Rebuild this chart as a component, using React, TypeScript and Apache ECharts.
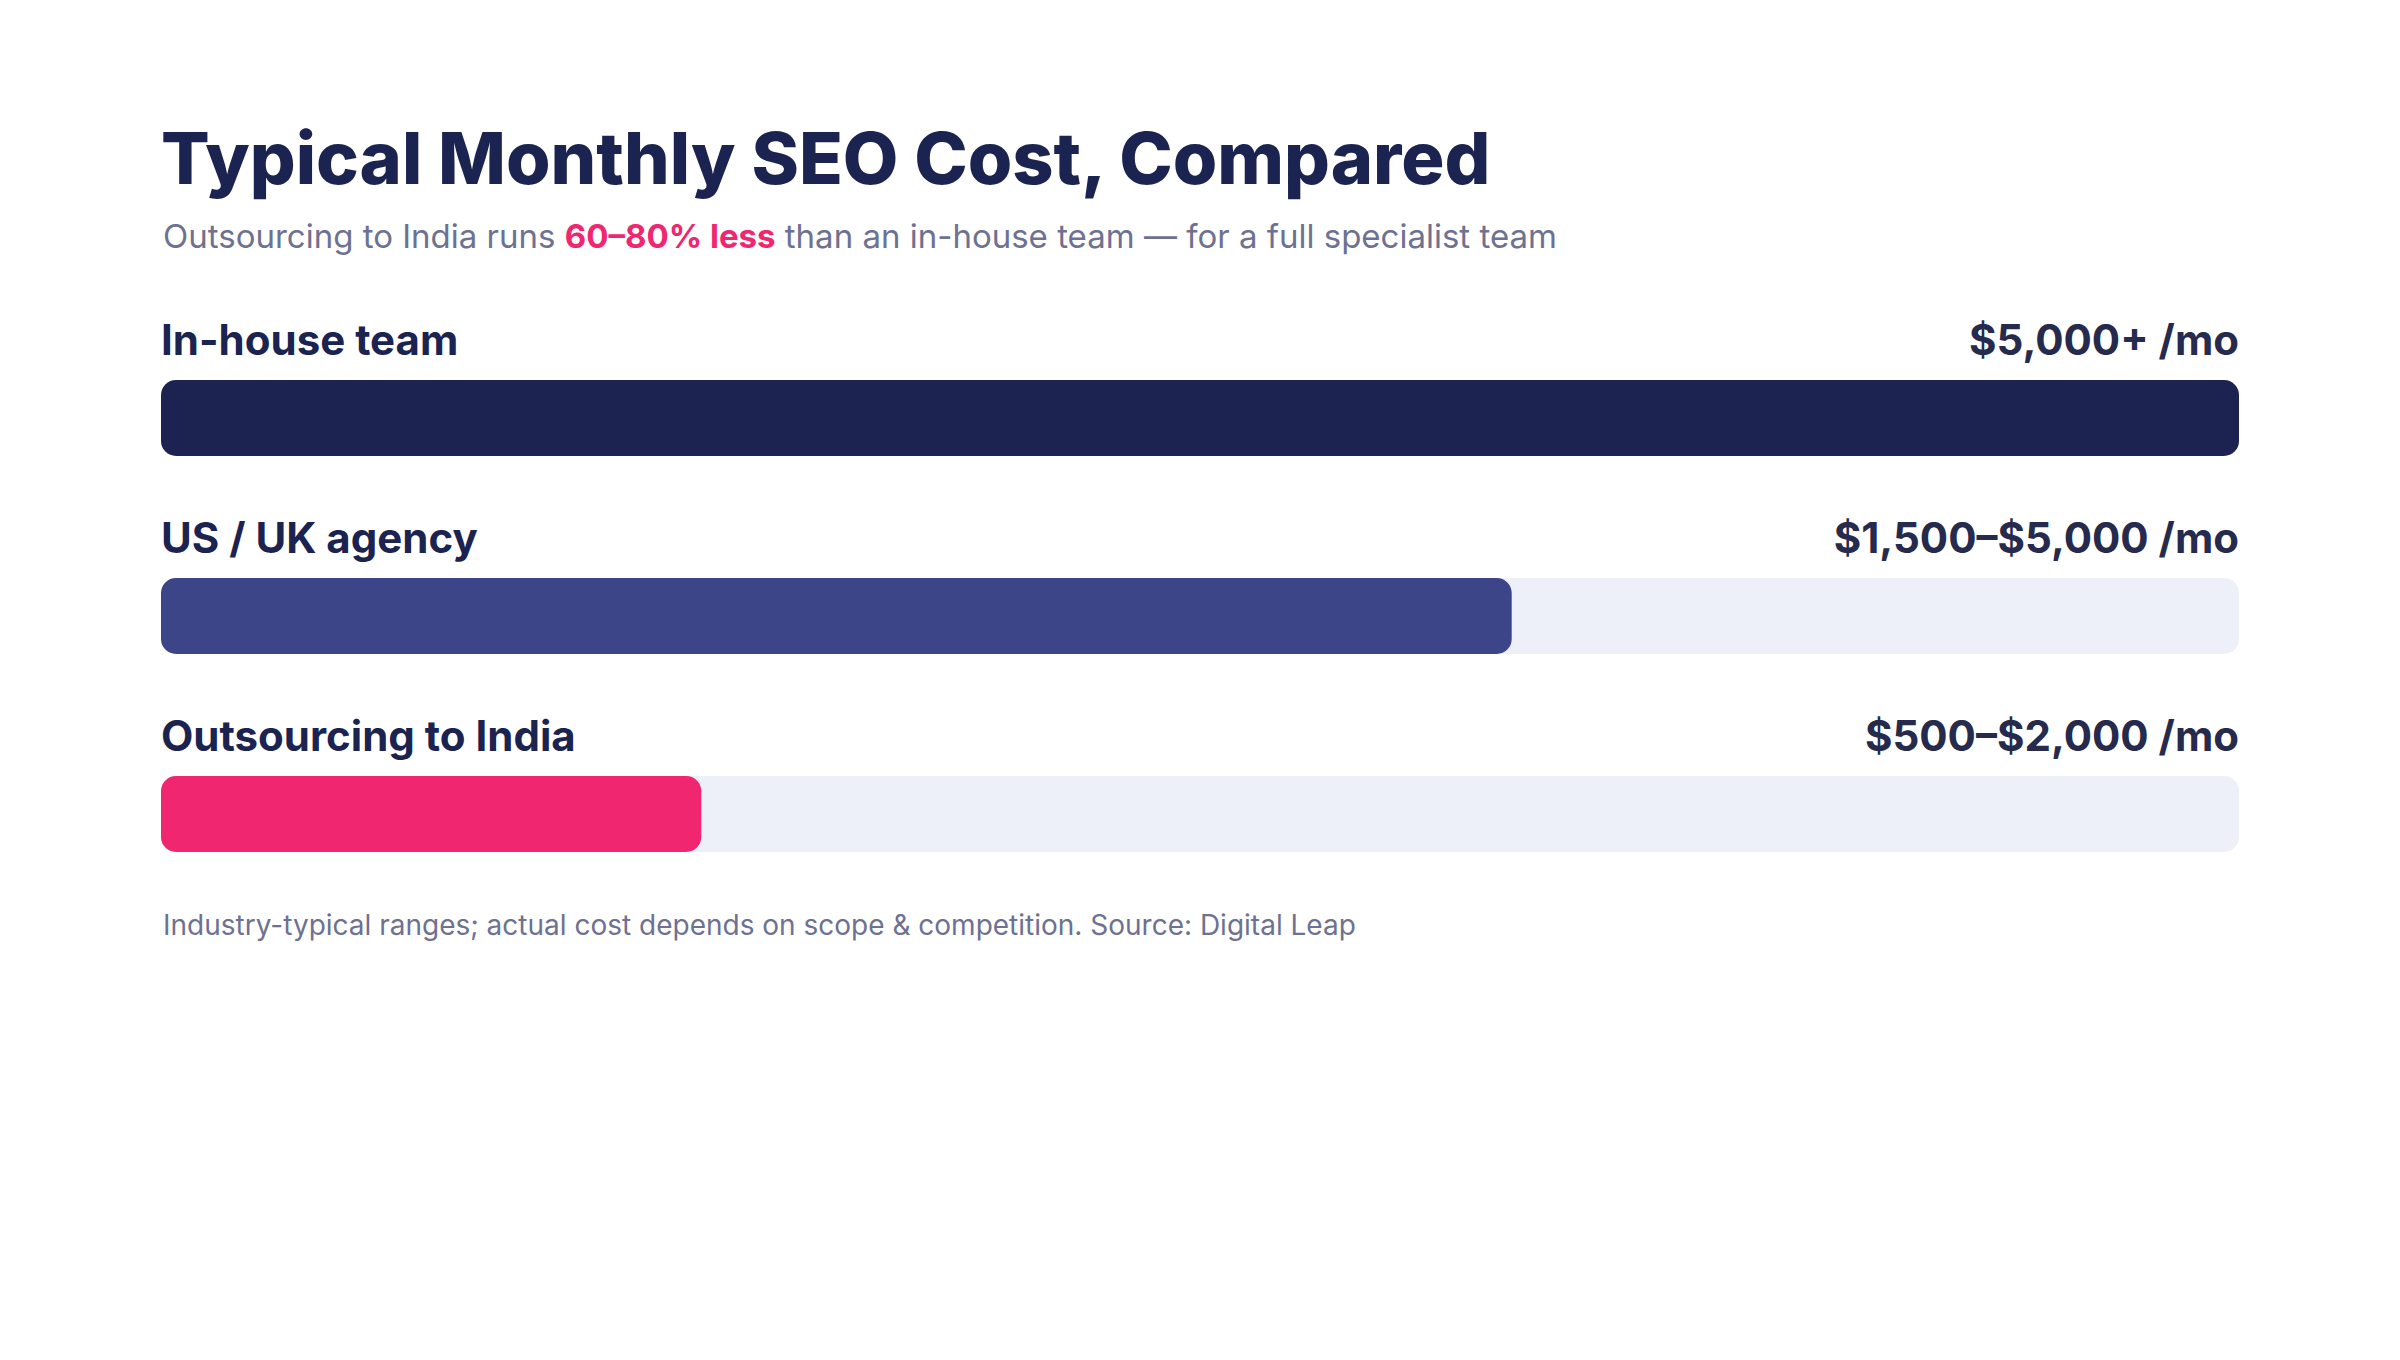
import { useEffect, useRef } from 'react';
import * as echarts from 'echarts';

const categories = ['In-house team', 'US / UK agency', 'Outsourcing to India'];
const priceLabels = ['$5,000+ /mo', '$1,500–$5,000 /mo', '$500–$2,000 /mo'];
const barValues = [5000, 3250, 1300];
const trackValues = [5000, 5000, 5000];
const barColors = ['#1c2351', '#3c4587', '#f02670'];

const FONT = 'Inter, "Noto Sans", sans-serif';
const NAVY = '#1b2350';

export default function App() {
  const chartRef = useRef<HTMLDivElement>(null);

  useEffect(() => {
    if (!chartRef.current) return;
    const chart = echarts.init(chartRef.current, undefined, { renderer: 'svg' });

    const option: echarts.EChartsOption = {
      animation: false,
      backgroundColor: '#ffffff',
      title: [
        {
          text: 'Typical Monthly SEO Cost, Compared',
          left: 156,
          top: 116,
          textStyle: { fontFamily: FONT, fontSize: 72, fontWeight: 800, color: NAVY },
        },
        {
          text: '{n|Outsourcing to India runs }{h|60–80% less}{n| than an in-house team — for a full specialist team}',
          left: 158,
          top: 214,
          textStyle: {
            rich: {
              n: { fontFamily: FONT, fontSize: 33, color: '#6e7191', fontWeight: 400 },
              h: { fontFamily: FONT, fontSize: 33, color: '#f02670', fontWeight: 700 },
            },
          },
        },
        {
          text: 'Industry-typical ranges; actual cost depends on scope & competition. Source: Digital Leap',
          left: 158,
          top: 906,
          textStyle: { fontFamily: FONT, fontSize: 28, fontWeight: 400, color: '#6e7191' },
        },
      ],
      grid: { left: 161, right: 161, top: 319, height: 594, containLabel: false },
      xAxis: { type: 'value', min: 0, max: 5000, show: false },
      yAxis: { type: 'category', data: categories, inverse: true, show: false },
      series: [
        {
          type: 'bar',
          data: trackValues,
          barWidth: 76,
          barGap: '-100%',
          silent: true,
          itemStyle: { color: '#edf0f8', borderRadius: 15 },
          label: {
            show: true,
            position: ['100%', -20],
            align: 'right',
            verticalAlign: 'bottom',
            fontFamily: FONT,
            fontSize: 42,
            fontWeight: 700,
            color: '#262b4d',
            formatter: (p: any) => priceLabels[p.dataIndex],
          },
        },
        {
          type: 'bar',
          data: trackValues,
          barWidth: 76,
          barGap: '-100%',
          silent: true,
          itemStyle: { color: 'transparent' },
          label: {
            show: true,
            position: [0, -20],
            align: 'left',
            verticalAlign: 'bottom',
            fontFamily: FONT,
            fontSize: 42,
            fontWeight: 700,
            color: NAVY,
            formatter: (p: any) => categories[p.dataIndex],
          },
        },
        {
          type: 'bar',
          data: barValues.map((v, i) => ({ value: v, itemStyle: { color: barColors[i] } })),
          barWidth: 76,
          barGap: '-100%',
          silent: true,
          itemStyle: { borderRadius: 15 },
        },
      ],
    };

    chart.setOption(option);
    const onResize = () => chart.resize();
    window.addEventListener('resize', onResize);
    return () => {
      window.removeEventListener('resize', onResize);
      chart.dispose();
    };
  }, []);

  return (
    <div
      ref={chartRef}
      style={{ position: 'fixed', left: 0, top: 0, width: '100vw', height: '100vh', background: '#fff' }}
    />
  );
}
